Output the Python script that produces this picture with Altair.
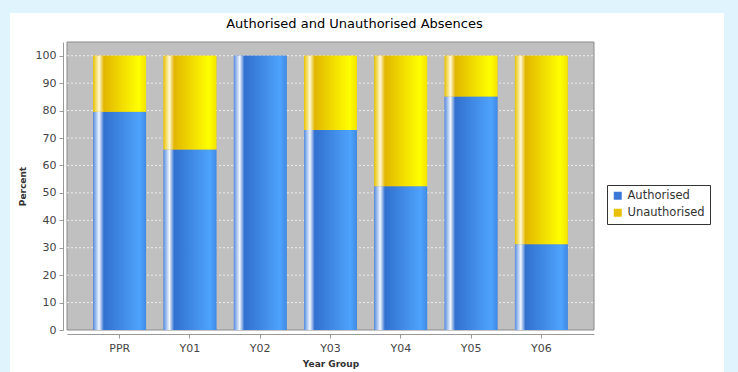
import altair as alt
import pandas as pd

categories = ["PPR", "Y01", "Y02", "Y03", "Y04", "Y05", "Y06"]
authorised = [79.6, 65.8, 100.0, 72.9, 52.4, 85.1, 31.3]
unauthorised = [20.4, 34.2, 0.0, 27.1, 47.6, 14.9, 68.7]
series_names = ["Authorised", "Unauthorised"]
y_ticks = [0, 10, 20, 30, 40, 50, 60, 70, 80, 90, 100]
grid_values = [10, 20, 30, 40, 50, 60, 70, 80, 90, 100]

W, H = 527, 288
FONT = "DejaVu Sans"

rows = []
for c, a, u in zip(categories, authorised, unauthorised):
    rows.append({"cat": c, "series": "Authorised", "lo": 0.0, "hi": a})
    rows.append({"cat": c, "series": "Unauthorised", "lo": a, "hi": a + u})
df = pd.DataFrame(rows)
grid_df = pd.DataFrame({"hi": grid_values})
one = pd.DataFrame({"k": [0]})

xscale = alt.Scale(domain=categories, paddingInner=0.25, paddingOuter=0.375)
yscale = alt.Scale(domain=[0, 105], nice=False, zero=True)

xenc = alt.X(
    "cat:N", sort=categories, scale=xscale, title="Year Group",
    axis=alt.Axis(offset=4, domainColor="#999999", tickColor="#999999", tickSize=4,
                  labelFont=FONT, labelFontSize=11, labelColor="#444444", labelPadding=4,
                  labelAngle=0, titleFont=FONT, titleFontSize=9, titleFontWeight="bold",
                  titleColor="#333333", titlePadding=6, grid=False, zindex=1),
)
yenc = alt.Y(
    "hi:Q", scale=yscale, title="Percent",
    axis=alt.Axis(values=y_ticks, offset=4, domainColor="#999999", tickColor="#999999",
                  tickSize=4, labelFont=FONT, labelFontSize=11, labelColor="#444444",
                  labelPadding=3, titleFont=FONT, titleFontSize=9, titleFontWeight="bold",
                  titleColor="#333333", titlePadding=8, grid=False, zindex=1),
)

panel = alt.Chart(one).mark_rect(color="white").encode(
    x=alt.value(-57), x2=alt.value(657), y=alt.value(-29), y2=alt.value(340)
)
plotbg = alt.Chart(one).mark_rect(fill="#c0c0c0", stroke="#8a8a8a", strokeWidth=1).encode(
    x=alt.value(0), x2=alt.value(W), y=alt.value(0), y2=alt.value(H)
)
grid = alt.Chart(grid_df).mark_rule(color="#ececec", strokeDash=[2, 2], strokeWidth=1).encode(
    y=yenc, x=alt.value(0), x2=alt.value(W)
)

solid = alt.Chart(df).mark_bar().encode(
    x=xenc, y=yenc, y2="lo:Q",
    color=alt.Color(
        "series:N",
        scale=alt.Scale(domain=series_names, range=["#3a78d8", "#e8c000"]),
        legend=alt.Legend(title=None, orient="none", legendX=540, legendY=143,
                          fillColor="white", strokeColor="#333333", padding=5,
                          symbolType="square", symbolSize=64, symbolStrokeWidth=0,
                          labelFont=FONT, labelFontSize=11.5, labelColor="#333333",
                          rowPadding=4, cornerRadius=0),
    ),
)

blue_grad = alt.Gradient(
    gradient="linear", x1=0, x2=1, y1=0, y2=0,
    stops=[
        alt.GradientStop(color="#5b8fe0", offset=0),
        alt.GradientStop(color="#f2f7ff", offset=0.11),
        alt.GradientStop(color="#3170cf", offset=0.2),
        alt.GradientStop(color="#4ea3fb", offset=0.88),
        alt.GradientStop(color="#3f8ae6", offset=1),
    ],
)
yellow_grad = alt.Gradient(
    gradient="linear", x1=0, x2=1, y1=0, y2=0,
    stops=[
        alt.GradientStop(color="#eac400", offset=0),
        alt.GradientStop(color="#fff8d8", offset=0.11),
        alt.GradientStop(color="#e2b600", offset=0.2),
        alt.GradientStop(color="#ffff00", offset=0.86),
        alt.GradientStop(color="#f4e400", offset=1),
    ],
)

auth_bars = alt.Chart(df).transform_filter("datum.series == 'Authorised'").mark_bar(
    color=blue_grad
).encode(x=xenc, y=yenc, y2="lo:Q")
unauth_bars = alt.Chart(df).transform_filter("datum.series == 'Unauthorised'").mark_bar(
    color=yellow_grad
).encode(x=xenc, y=yenc, y2="lo:Q")

chart = alt.layer(panel, plotbg, grid, solid, auth_bars, unauth_bars).properties(
    width=W, height=H,
    title=alt.TitleParams("Authorised and Unauthorised Absences", font=FONT, fontSize=13,
                          fontWeight="normal", color="#000000", anchor="middle",
                          dx=24, offset=-18),
    autosize=alt.AutoSizeParams(type="none"),
    padding={"left": 67, "top": 42, "right": 144, "bottom": 42},
    background="#dff4fd",
).configure_view(stroke=None)

chart.save("out.html", embed_options={"renderer": "svg", "actions": False})
